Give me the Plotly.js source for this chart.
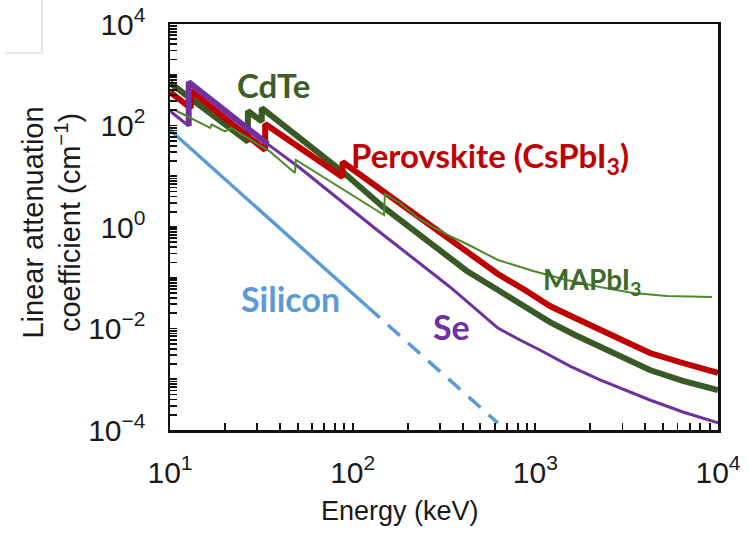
<!DOCTYPE html>
<html>
<head>
<meta charset="utf-8">
<script src="https://cdn.plot.ly/plotly-3.0.1.min.js"></script>
<style>html,body{margin:0;padding:0;background:#fff;} #chart{width:749px;height:537px;}</style>
</head>
<body>
<div id="chart"></div>
<script>
// Energy (keV) and linear attenuation coefficient (cm^-1)
var siliconE = [10, 121];
var siliconMu = [81.5, 0.0265];
var siliconDashE = [121, 624];
var siliconDashMu = [0.0265, 1.37e-4];

var seE = [10, 12.66, 12.66, 34.4, 51.5, 136, 341, 624, 824, 1059, 1546, 2259, 4238, 6420, 10000];
var seMu = [193, 97.7, 720, 42.4, 14.5, 0.873, 0.0658, 0.0102, 0.00593, 0.00377, 0.00182, 9.7e-4, 3.9e-4, 2.26e-4, 1.39e-4];

var cdteE = [10, 26.7, 26.7, 31.8, 31.8, 88.5, 146.7, 275, 422, 624, 877, 1202, 1650, 2259, 3090, 4238, 6420, 10000];
var cdteMu = [687, 48, 193, 120, 221, 12.1, 2.48, 0.423, 0.136, 0.0574, 0.0265, 0.0134, 0.00745, 0.00432, 0.00262, 0.00152, 9.25e-4, 6.14e-4];

var pvkE = [10, 13.0, 13.0, 33.2, 33.2, 88.0, 88.0, 146.7, 181.5, 275, 422, 624, 877, 1202, 1650, 2259, 3090, 4238, 6420, 10000];
var pvkMu = [457, 221, 479, 32.9, 107, 9.67, 19.1, 5.05, 2.87, 0.955, 0.321, 0.1186, 0.0574, 0.0277, 0.0161, 0.0093, 0.00542, 0.00329, 0.00209, 0.00133];

var mapiE = [10.6, 16.6, 16.9, 20.0, 21.7, 35.3, 48.3, 48.9, 148.6, 150, 181.5, 224, 275, 341, 422, 624, 973, 1488, 2259, 3420, 5270, 9265];
var mapiMu = [202, 89.3, 104.7, 76.2, 89.3, 30.5, 11.6, 20.9, 1.72, 4.47, 2.97, 1.57, 1.0, 0.665, 0.462, 0.224, 0.136, 0.0904, 0.0658, 0.0501, 0.0437, 0.0418];

var xTickVals = [10, 100, 1000, 10000];
var xTickText = ['10<sup>1</sup>', '10<sup>2</sup>', '10<sup>3</sup>', '10<sup>4</sup>'];
var yTickVals = [1e-4, 1e-3, 1e-2, 1e-1, 1, 10, 100, 1000, 10000];
var yTickText = ['10<sup>−4</sup>', '', '10<sup>−2</sup>', '', '10<sup>0</sup>', '', '10<sup>2</sup>', '', '10<sup>4</sup>'];

// minor tick positions (2..9 in every decade), merged with the labelled ticks
function minorVals(lo, hi) {
  var v = [];
  for (var d = lo; d < hi; d++) {
    for (var m = 2; m <= 9; m++) v.push(m * Math.pow(10, d));
  }
  return v;
}
var xMinor = minorVals(1, 4);
var yMinor = minorVals(-4, 4);
var xAllVals = xTickVals.concat(xMinor);
var xAllText = xTickText.concat(xMinor.map(function () { return ''; }));
var yAllVals = yTickVals.concat(yMinor);
var yAllText = yTickText.concat(yMinor.map(function () { return ''; }));

var cGreenDark = '#3A5A25', cRed = '#C00000', cPurple = '#7030A0', cBlue = '#5B9BD5', cGreenThin = '#4E8A2C';

var traces = [
  {x: cdteE, y: cdteMu, mode: 'lines', line: {color: cGreenDark, width: 6}, name: 'CdTe'},
  {x: pvkE, y: pvkMu, mode: 'lines', line: {color: cRed, width: 6}, name: 'Perovskite'},
  {x: seE, y: seMu, mode: 'lines', line: {color: cPurple, width: 3}, name: 'Se'},
  {x: seE.slice(1, 4), y: seMu.slice(1, 4), mode: 'lines', line: {color: cPurple, width: 6}, name: 'Se edge'},
  {x: mapiE, y: mapiMu, mode: 'lines', line: {color: cGreenThin, width: 2}, name: 'MAPbI3'},
  {x: siliconE, y: siliconMu, mode: 'lines', line: {color: cBlue, width: 3.5}, name: 'Silicon'},
  {x: siliconDashE, y: siliconDashMu, mode: 'lines', line: {color: cBlue, width: 3.5, dash: '16px,11px'}, name: 'Silicon (ext.)'}
];

var labFont = 'Lato, "Open Sans", sans-serif';
var axFont = '"Liberation Sans", Arial, sans-serif';

var layout = {
  width: 749, height: 537,
  margin: {l: 170, r: 31, t: 24, b: 107},
  paper_bgcolor: '#fff', plot_bgcolor: '#fff',
  showlegend: false,
  xaxis: {
    type: 'log', range: [1, 4],
    tickmode: 'array', tickvals: xAllVals, ticktext: xAllText,
    ticks: 'inside', ticklen: 7, tickwidth: 1.8, tickcolor: '#111',
    showline: true, linecolor: '#111', linewidth: 2.5, mirror: true,
    showgrid: false, zeroline: false,
    tickfont: {family: axFont, size: 30, color: '#1a1a1a'},
    ticklabelstandoff: 14
  },
  yaxis: {
    type: 'log', range: [-4, 4],
    tickmode: 'array', tickvals: yAllVals, ticktext: yAllText,
    ticks: 'inside', ticklen: 7, tickwidth: 1.8, tickcolor: '#111',
    showline: true, linecolor: '#111', linewidth: 2.5, mirror: true,
    showgrid: false, zeroline: false,
    tickfont: {family: axFont, size: 30, color: '#1a1a1a'},
    ticklabelstandoff: 16
  },
  shapes: [
    {type: 'line', xref: 'paper', yref: 'paper', x0: (42 - 170) / 548, x1: (42 - 170) / 548, y0: (430 - 0) / 406, y1: (430 - 53) / 406, line: {color: '#d0d0d0', width: 1}},
    {type: 'line', xref: 'paper', yref: 'paper', x0: (5 - 170) / 548, x1: (42 - 170) / 548, y0: (430 - 53) / 406, y1: (430 - 53) / 406, line: {color: '#d0d0d0', width: 1}}
  ],
  annotations: [
    {xref: 'paper', yref: 'paper', x: -0.216, y: 0.51, text: 'Linear attenuation<br>coefficient (cm<sup>−1</sup>)', textangle: -90, showarrow: false, font: {family: axFont, size: 29, color: '#1a1a1a'}, xanchor: 'center', yanchor: 'middle'},
    {xref: 'paper', yref: 'paper', x: 0.4197, y: -0.2, text: 'Energy (keV)', showarrow: false, font: {family: axFont, size: 27, color: '#1a1a1a'}, xanchor: 'center', yanchor: 'middle'},
    {xref: 'paper', yref: 'paper', x: 0.188, y: 0.850, text: '<b>CdTe</b>', showarrow: false, font: {family: labFont, size: 33, color: '#3D5E27'}, xanchor: 'center', yanchor: 'middle'},
    {xref: 'paper', yref: 'paper', x: 0.584, y: 0.672, text: '<b>Perovskite (CsPbI<sub>3</sub>)</b>', showarrow: false, font: {family: labFont, size: 33, color: cRed}, xanchor: 'center', yanchor: 'middle'},
    {xref: 'paper', yref: 'paper', x: 0.770, y: 0.367, text: '<b>MAPbI<sub>3</sub></b>', showarrow: false, font: {family: labFont, size: 28, color: '#3D6B2A'}, xanchor: 'center', yanchor: 'middle'},
    {xref: 'paper', yref: 'paper', x: 0.219, y: 0.325, text: '<b>Silicon</b>', showarrow: false, font: {family: labFont, size: 34, color: cBlue}, xanchor: 'center', yanchor: 'middle'},
    {xref: 'paper', yref: 'paper', x: 0.513, y: 0.256, text: '<b>Se</b>', showarrow: false, font: {family: labFont, size: 34, color: cPurple}, xanchor: 'center', yanchor: 'middle'}
  ]
};

Plotly.newPlot('chart', traces, layout, {staticPlot: true, displayModeBar: false});
</script>
</body>
</html>
